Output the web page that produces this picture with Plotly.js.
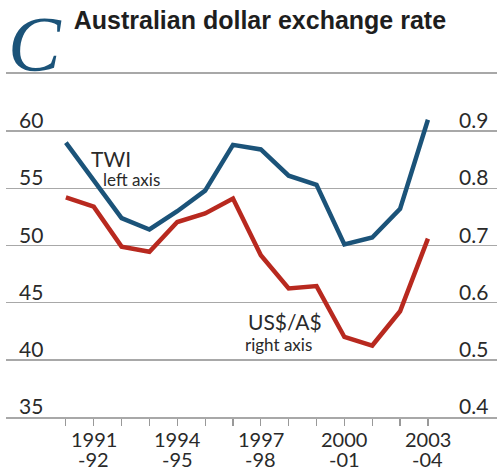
<!DOCTYPE html>
<html>
<head>
<meta charset="utf-8">
<script src="https://cdn.plot.ly/plotly-3.0.1.min.js"></script>
<style>html,body{margin:0;padding:0;background:#fff;}#chart{width:498px;height:475px;}</style>
</head>
<body>
<div id="chart"></div>
<script>
// Financial years 1990-91 .. 2003-04 (index positions)
const years = [0,1,2,3,4,5,6,7,8,9,10,11,12,13];
const yearTop = ["","1991","","","1994","","","1997","","","2000","","","2003"];
const yearBottom = ["","-92","","","-95","","","-98","","","-01","","","-04"];
const twi = [59.0, 55.7, 52.4, 51.4, 53.0, 54.8, 58.8, 58.4, 56.1, 55.3, 50.1, 50.7, 53.2, 61.0];
const usd = [0.784, 0.768, 0.698, 0.689, 0.741, 0.756, 0.782, 0.683, 0.625, 0.629, 0.540, 0.525, 0.585, 0.712];
const leftTicks = [35, 40, 45, 50, 55, 60];
const rightTicks = [0.4, 0.5, 0.6, 0.7, 0.8, 0.9];
const rightTickText = ["0.4","0.5","0.6","0.7","0.8","0.9"];

const blue = "#1b5379";
const red = "#b8291f";
const txt = "#2a2a2a";
const font = "Lato, 'Open Sans', sans-serif";

const traces = [
  {x: years, y: twi, type: "scatter", mode: "lines", line: {color: blue, width: 4.5}, yaxis: "y", hoverinfo: "none"},
  {x: years, y: usd, type: "scatter", mode: "lines", line: {color: red, width: 4.5}, yaxis: "y2", hoverinfo: "none"}
];

const ann = [];
leftTicks.forEach(v => ann.push({xref: "paper", yref: "y", x: 0.022, y: v, xanchor: "left", yanchor: "bottom",
  text: String(v), showarrow: false, font: {family: font, size: 21, color: txt}, yshift: -3}));
rightTicks.forEach((v, i) => ann.push({xref: "paper", yref: "y2", x: 0.986, y: v, xanchor: "right", yanchor: "bottom",
  text: rightTickText[i], showarrow: false, font: {family: font, size: 21, color: txt}, yshift: -3}));
years.forEach((v, i) => {
  if (yearTop[i]) {
    ann.push({xref: "x", yref: "paper", x: v, y: 0, xanchor: "center", yanchor: "top", yshift: -9, borderpad: 0,
      text: yearTop[i], showarrow: false, font: {family: font, size: 20, color: txt}});
    ann.push({xref: "x", yref: "paper", x: v, y: 0, xanchor: "center", yanchor: "top", yshift: -29, borderpad: 0,
      text: yearBottom[i], showarrow: false, font: {family: font, size: 20, color: txt}});
  }
});
// series labels
ann.push({xref: "x", yref: "y", x: 0.82, y: 57.65, xanchor: "left", yanchor: "middle", text: "TWI", showarrow: false,
  font: {family: font, size: 21, color: txt}});
ann.push({xref: "x", yref: "y", x: 1.25, y: 55.8, xanchor: "left", yanchor: "middle", text: "left axis", showarrow: false,
  font: {family: font, size: 17, color: txt}});
ann.push({xref: "x", yref: "y", x: 6.45, y: 43.35, xanchor: "left", yanchor: "middle", text: "US$/A$", showarrow: false,
  font: {family: font, size: 21, color: txt}});
ann.push({xref: "x", yref: "y", x: 6.35, y: 41.3, xanchor: "left", yanchor: "middle", text: "right axis", showarrow: false,
  font: {family: font, size: 17, color: txt}});
// big C
ann.push({xref: "paper", yref: "paper", x: 0.0, y: 1.09, xanchor: "left", yanchor: "middle", text: "<i>C</i>", showarrow: false,
  font: {family: "'Liberation Serif', 'DejaVu Serif', serif", size: 79, color: blue}});

const layout = {
  width: 498, height: 475,
  margin: {l: 6, r: 1, t: 74, b: 58, pad: 0},
  paper_bgcolor: "#fff", plot_bgcolor: "#fff",
  showlegend: false,
  title: {text: "<b>Australian dollar exchange rate</b>", xref: "container", yref: "container",
    x: 0.148, xanchor: "left", y: 0.975, yanchor: "top",
    font: {family: "'Liberation Sans', Arial, sans-serif", size: 25, color: "#1e1e1e"}},
  xaxis: {range: [-2.15, 15.48], tickvals: years, ticktext: years.map(() => ""), ticks: "outside", ticklen: 7,
    tickcolor: "#999", tickwidth: 1.2, showgrid: false, zeroline: false, showline: true, mirror: true,
    linecolor: "#a8a8a8", linewidth: 1.8, fixedrange: true},
  yaxis: {range: [35, 65], tickvals: leftTicks, showticklabels: false, showgrid: true, gridcolor: "#a8a8a8",
    gridwidth: 1.5, zeroline: false, ticks: "", fixedrange: true},
  yaxis2: {range: [0.4, 1.0], overlaying: "y", side: "right", showticklabels: false, showgrid: false,
    zeroline: false, ticks: "", fixedrange: true},
  annotations: ann
};

Plotly.newPlot("chart", traces, layout, {displayModeBar: false, staticPlot: true});
</script>
</body>
</html>
